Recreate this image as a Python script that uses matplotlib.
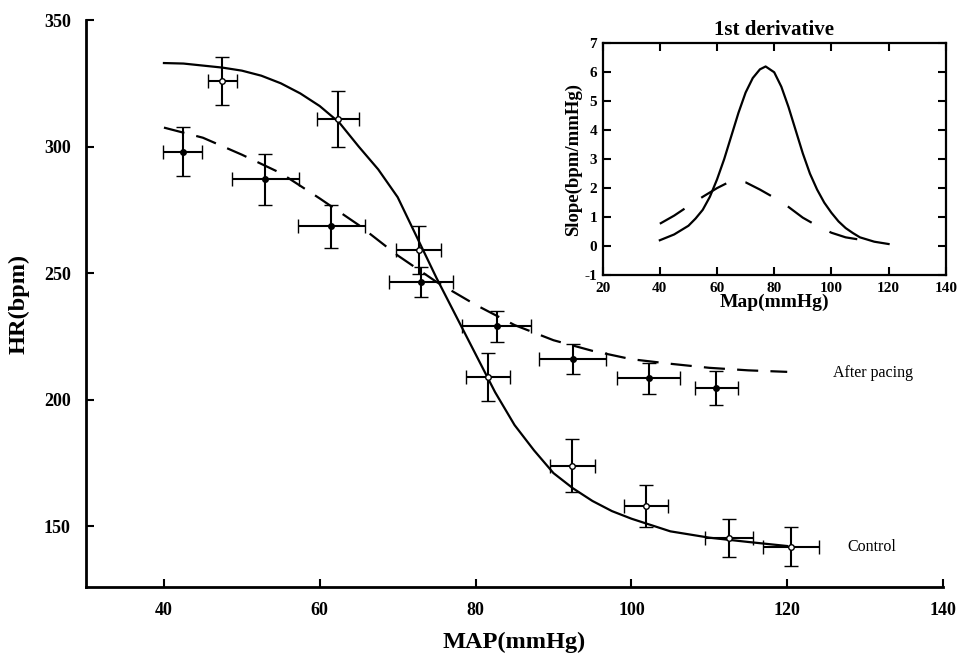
import matplotlib
matplotlib.use("Agg")
import matplotlib.pyplot as plt

plt.rcParams['font.family'] = ['Liberation Serif', 'DejaVu Serif']

# ---- Main panel data ----
control_x = [47.5, 62.3, 72.7, 81.6, 92.4, 101.9, 112.5, 120.5]
control_y = [326, 311, 259, 209, 174, 158, 145.5, 142]
control_xerr = [1.9, 2.7, 2.9, 2.8, 2.9, 2.8, 3.1, 3.6]
control_yerr = [9.5, 11, 9.5, 9.4, 10.5, 8.4, 7.5, 7.7]

pacing_x = [42.4, 53.0, 61.5, 73.0, 82.7, 92.5, 102.2, 110.9]
pacing_y = [298, 287, 268.5, 246.5, 229, 216, 208.5, 204.5]
pacing_xerr = [2.5, 4.3, 4.3, 4.1, 4.4, 4.3, 4.0, 2.8]
pacing_yerr = [9.8, 10.2, 8.5, 5.9, 6.2, 6.0, 6.2, 6.7]

control_fit_x = [40, 42.5, 45, 47.5, 50, 52.5, 55, 57.5, 60, 62.5, 65, 67.5, 70, 72.5,
                 75, 77.5, 80, 82.5, 85, 87.5, 90, 92.5, 95, 97.5, 100, 105, 110, 115, 120]
control_fit = [333, 332.8, 332, 331.2, 330, 328, 325, 321, 316, 309.5, 300, 291, 280, 264,
               248, 233, 218, 203, 190, 180, 171, 165, 160, 156, 153, 148, 145.5, 143.8, 142.2]
pacing_fit_x = [40, 45, 50, 55, 60, 65, 70, 75, 80, 85, 90, 95, 100, 105, 110, 115, 120]
pacing_fit = [307.5, 303.5, 296.8, 289.5, 279.5, 269, 257, 246.5, 237.5, 229.5, 223.5,
              219.3, 216, 214.2, 212.6, 211.6, 211]

main_xticks = [40, 60, 80, 100, 120, 140]
main_yticks = [150, 200, 250, 300, 350]

# ---- Inset data ----
d_x = [40, 45, 50, 52.5, 55, 57.5, 60, 62.5, 65, 67.5, 70, 72.5, 75, 77, 80, 82.5, 85,
       87.5, 90, 92.5, 95, 97.5, 100, 102.5, 105, 107.5, 110, 115, 120]
d_control = [0.2, 0.4, 0.7, 0.95, 1.25, 1.7, 2.3, 3.0, 3.8, 4.6, 5.3, 5.8, 6.1, 6.2, 6.0,
             5.5, 4.8, 4.0, 3.2, 2.5, 1.95, 1.5, 1.15, 0.85, 0.62, 0.45, 0.3, 0.15, 0.07]
dp_x = [40, 45, 50, 55, 60, 65, 67, 70, 75, 80, 85, 90, 95, 100, 105, 110, 113]
d_pacing = [0.77, 1.05, 1.38, 1.7, 2.0, 2.25, 2.27, 2.2, 1.95, 1.67, 1.35, 0.98, 0.7, 0.46,
            0.3, 0.22, 0.2]

inset_xticks = [20, 40, 60, 80, 100, 120, 140]
inset_yticks = [-1, 0, 1, 2, 3, 4, 5, 6, 7]

fig = plt.figure(figsize=(9.7, 6.54), dpi=100)
ax = fig.add_axes([0.0887, 0.1024, 0.8835, 0.8670])

ax.plot(control_fit_x, control_fit, color='black', lw=1.6)
line, = ax.plot(pacing_fit_x, pacing_fit, color='black', lw=1.6)
line.set_dashes((9.5, 5.5))

ax.errorbar(control_x, control_y, xerr=control_xerr, yerr=control_yerr, fmt='o',
            color='black', mfc='white', mec='black', ms=4, mew=1.0,
            elinewidth=1.5, capsize=5, capthick=1.5, zorder=3)
ax.errorbar(pacing_x, pacing_y, xerr=pacing_xerr, yerr=pacing_yerr, fmt='o',
            color='black', mfc='black', mec='black', ms=4, mew=1.0,
            elinewidth=1.5, capsize=5, capthick=1.5, zorder=3)

ax.text(125.9, 210.7, 'After pacing', fontsize=11.5, va='center', ha='left')
ax.text(127.7, 141.8, 'Control', fontsize=11.5, va='center', ha='left')

ax.set_xlim(30, 140)
ax.set_ylim(126, 350)
ax.set_xticks(main_xticks)
ax.set_yticks(main_yticks)
ax.spines['top'].set_visible(False)
ax.spines['right'].set_visible(False)
for s in ['left', 'bottom']:
    ax.spines[s].set_linewidth(2.0)
ax.tick_params(direction='in', length=6, width=1.5, pad=11)
for lab in ax.get_xticklabels() + ax.get_yticklabels():
    lab.set_fontsize(13)
    lab.set_fontweight('bold')
ax.set_xlabel('MAP(mmHg)', fontsize=17.5, fontweight='bold', labelpad=9)
ax.set_ylabel('HR(bpm)', fontsize=17.5, fontweight='bold', labelpad=10)

# ---- Inset ----
ax2 = fig.add_axes([0.6213, 0.5795, 0.3537, 0.3543])
ax2.plot(d_x, d_control, color='black', lw=1.6)
l2, = ax2.plot(dp_x, d_pacing, color='black', lw=1.6)
l2.set_dashes((13, 9))
ax2.set_xlim(20, 140)
ax2.set_ylim(-1, 7)
ax2.set_xticks(inset_xticks)
ax2.set_yticks(inset_yticks)
ax2.set_yticklabels(['-1', '0', '1', '2', '3', '4', '5', '6', '7'])
for s in ax2.spines.values():
    s.set_linewidth(1.6)
ax2.tick_params(direction='in', length=6, width=1.5, top=True, right=True)
ax2.tick_params(axis='y', pad=4)
ax2.tick_params(axis='x', pad=5)
for lab in ax2.get_xticklabels() + ax2.get_yticklabels():
    lab.set_fontsize(11)
    lab.set_fontweight('bold')
ax2.set_xlabel('Map(mmHg)', fontsize=14, fontweight='bold', labelpad=-1)
ax2.set_ylabel('Slope(bpm/mmHg)', fontsize=13.5, fontweight='bold', labelpad=2)
ax2.set_title('1st derivative', fontsize=15, fontweight='bold', pad=6)

fig.savefig('out.png', dpi=100)
